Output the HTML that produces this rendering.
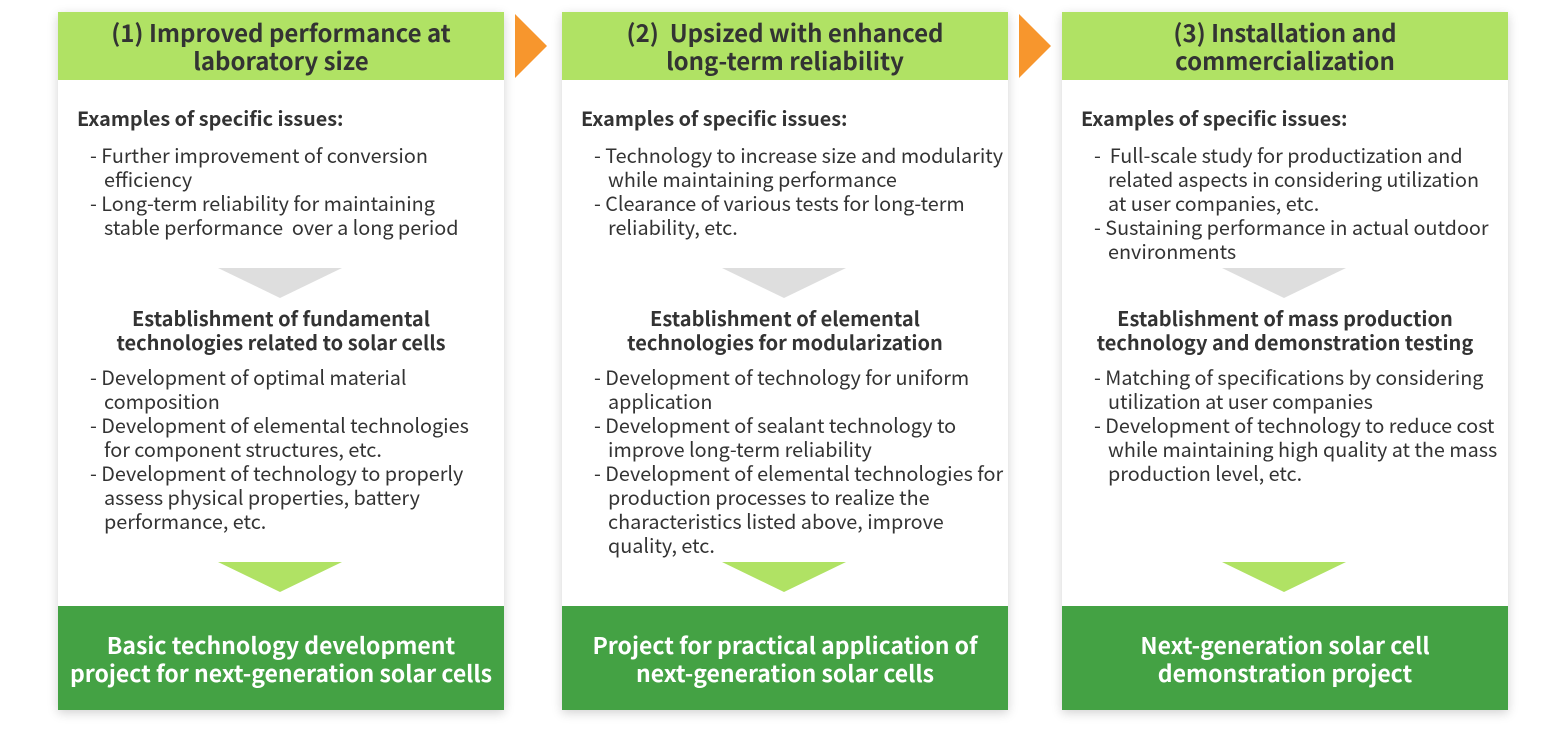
<!DOCTYPE html>
<html><head><meta charset="utf-8"><style>
body{margin:0;width:1566px;height:734px;background:#fff;position:relative;overflow:hidden;font-family:"Noto Sans CJK JP","Liberation Sans",sans-serif;color:#333;}
.card{position:absolute;top:12px;width:446px;height:698px;background:#fff;box-shadow:0 3px 10px rgba(0,0,0,0.18);}
.hd{position:absolute;left:0;top:0;width:446px;height:68px;background:#b0e264;font-weight:bold;font-size:24px;line-height:28px;text-align:center;padding-top:6px;box-sizing:border-box;color:#333;}
.ft{position:absolute;left:0;top:594px;width:446px;height:104px;background:#44a244;color:#fff;font-weight:bold;font-size:23px;line-height:28px;text-align:center;padding-top:24px;box-sizing:border-box;}
.ex{position:absolute;left:19px;top:94px;font-weight:bold;font-size:19.8px;line-height:24px;}
.ul{position:absolute;font-size:19.8px;line-height:24px;white-space:nowrap;}
.ul div{padding-left:14px;text-indent:-14px;}
.est{position:absolute;left:0;width:446px;top:294px;text-align:center;font-weight:bold;font-size:20px;line-height:24px;}
.tri{position:absolute;left:160px;width:0;height:0;border-left:62px solid transparent;border-right:62px solid transparent;}
.g{top:256px;border-top:30px solid #dedede;}
.l{top:550px;border-top:30px solid #b0e264;}
.arr{position:absolute;top:14px;width:0;height:0;border-top:32px solid transparent;border-bottom:32px solid transparent;border-left:32px solid #f7962d;}
</style></head><body>
<div class="arr" style="left:515px"></div>
<div class="arr" style="left:1019px"></div>

<div class="card" style="left:58px">
<div class="hd">(1) Improved performance at<br>laboratory size</div>
<div class="ex">Examples of specific issues:</div>
<div class="ul" style="left:32px;top:131px">
<div>- Further improvement of conversion<br>efficiency</div>
<div>- Long-term reliability for maintaining<br>stable performance&nbsp; over a long period</div></div>
<div class="tri g"></div>
<div class="est">Establishment of fundamental<br>technologies related to solar cells</div>
<div class="ul" style="left:32px;top:353px">
<div>- Development of optimal material<br>composition</div>
<div>- Development of elemental technologies<br>for component structures, etc.</div>
<div>- Development of technology to properly<br>assess physical properties, battery<br>performance, etc.</div></div>
<div class="tri l"></div>
<div class="ft">Basic technology development<br>project for next-generation solar cells</div>
</div>

<div class="card" style="left:562px">
<div class="hd">(2)&nbsp; Upsized with enhanced<br>long-term reliability</div>
<div class="ex">Examples of specific issues:</div>
<div class="ul" style="left:32px;top:131px">
<div>- Technology to increase size and modularity<br>while maintaining performance</div>
<div>- Clearance of various tests for long-term<br>reliability, etc.</div></div>
<div class="tri g"></div>
<div class="est">Establishment of elemental<br>technologies for modularization</div>
<div class="ul" style="left:32px;top:353px">
<div>- Development of technology for uniform<br>application</div>
<div>- Development of sealant technology to<br>improve long-term reliability</div>
<div>- Development of elemental technologies for<br>production processes to realize the<br>characteristics listed above, improve<br>quality, etc.</div></div>
<div class="tri l"></div>
<div class="ft">Project for practical application of<br>next-generation solar cells</div>
</div>

<div class="card" style="left:1062px">
<div class="hd">(3) Installation and<br>commercialization</div>
<div class="ex">Examples of specific issues:</div>
<div class="ul" style="left:32px;top:131px">
<div>-&nbsp; Full-scale study for productization and<br>related aspects in considering utilization<br>at user companies, etc.</div>
<div>- Sustaining performance in actual outdoor<br>environments</div></div>
<div class="tri g"></div>
<div class="est">Establishment of mass production<br>technology and demonstration testing</div>
<div class="ul" style="left:32px;top:353px">
<div>- Matching of specifications by considering<br>utilization at user companies</div>
<div>- Development of technology to reduce cost<br>while maintaining high quality at the mass<br>production level, etc.</div></div>
<div class="tri l"></div>
<div class="ft">Next-generation solar cell<br>demonstration project</div>
</div>
</body></html>
